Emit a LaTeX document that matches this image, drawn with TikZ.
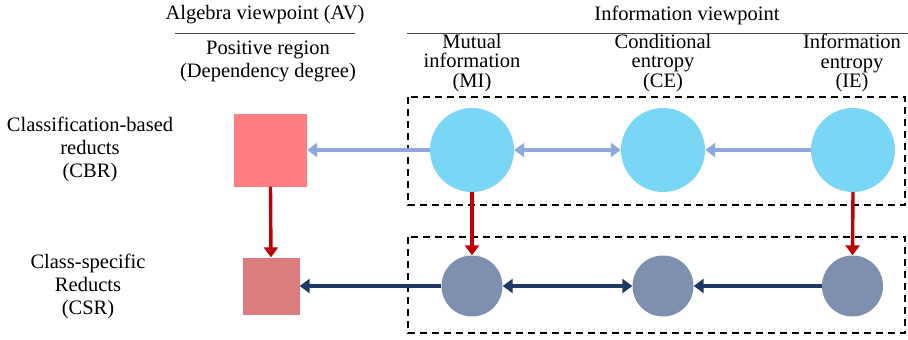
\documentclass[tikz,border=0pt]{standalone}
\usepackage{fontspec}
\setmainfont{Liberation Serif}
\usetikzlibrary{arrows.meta}
\definecolor{bigsq}{RGB}{255,124,128}
\definecolor{smsq}{RGB}{220,124,126}
\definecolor{bigc}{RGB}{122,214,245}
\definecolor{smc}{RGB}{127,143,176}
\definecolor{lightar}{RGB}{142,169,219}
\definecolor{darkar}{RGB}{31,56,100}
\definecolor{redar}{RGB}{192,0,0}
\tikzset{
  lbl/.style={align=center,font=\fontsize{20.5}{23}\selectfont,inner sep=0pt},
  lblt/.style={align=center,font=\fontsize{20.5}{19.5}\selectfont,inner sep=0pt},
  bigcirc/.style={circle,fill=bigc,minimum size=84pt,inner sep=0pt},
  smcirc/.style={circle,fill=smc,minimum size=61pt,inner sep=0pt},
  tri/.style={-{Triangle[length=10pt,width=14pt]}},
  bitri/.style={{Triangle[length=10pt,width=14pt]}-{Triangle[length=10pt,width=14pt]}},
  lightline/.style={draw=lightar,line width=3.4pt},
  darkline/.style={draw=darkar,line width=3.2pt},
  redline/.style={draw=redar,line width=3.4pt},
  dbox/.style={draw,line width=1.4pt,dash pattern=on 7pt off 5pt},
}
\begin{document}
\begin{tikzpicture}[x=1pt,y=-1pt]
\useasboundingbox (0,0) rectangle (908,340);
% headers
\node[lbl] (av) at (265,15) {Algebra viewpoint (AV)};
\coordinate (avl) at (175,33);
\coordinate (avr) at (355,33);
\draw[line width=0.9pt,black!70] (avl) -- (avr);
\node[lbl] (pr) at (268,61) {Positive region\\(Dependency degree)};
\node[lbl] (iv) at (687,15) {Information viewpoint};
\coordinate (ivl) at (407,33);
\coordinate (ivr) at (908,33);
\draw[line width=0.9pt,black!70] (ivl) -- (ivr);
\node[lblt] (mi) at (472,63) {Mutual\\information\\(MI)};
\node[lblt] (ce) at (663,63) {Conditional\\entropy\\(CE)};
\node[lblt] (ie) at (852,63) {Information\\entropy\\(IE)};
\node[lbl] (cbr) at (90,149) {Classification-based\\reducts\\(CBR)};
\node[lbl] (csr) at (88,286) {Class-specific\\Reducts\\(CSR)};
% dashed boxes
\coordinate (b1a) at (408,97);
\coordinate (b1b) at (905,205);
\coordinate (b2a) at (408,237);
\coordinate (b2b) at (905,333);
\draw[dbox] (b1a) rectangle (b1b);
\draw[dbox] (b2a) rectangle (b2b);
% shapes
\node[fill=bigsq,minimum size=73pt,inner sep=0pt] (sqb) at (270.5,150) {};
\node[fill=smsq,minimum size=57pt,inner sep=0pt] (sqs) at (271,286) {};
\node[bigcirc] (mib) at (472,150) {};
\node[bigcirc] (ceb) at (663,150) {};
\node[bigcirc] (ieb) at (853,150) {};
\node[smcirc] (mis) at (472,286) {};
\node[smcirc] (ces) at (663,286) {};
\node[smcirc] (ies) at (852.5,286) {};
% light arrows
\draw[lightline,tri] (mib.west) -- (sqb.east);
\draw[lightline,bitri] (mib.east) -- (ceb.west);
\draw[lightline,tri] (ieb.west) -- (ceb.east);
% dark arrows
\draw[darkline,tri] (mis.west) -- (sqs.east);
\draw[darkline,bitri] (mis.east) -- (ces.west);
\draw[darkline,tri] (ies.west) -- (ces.east);
% red arrows
\draw[redline,tri] (sqb.south) -- (sqs.north);
\draw[redline,tri] (mib.south) -- (mis.north);
\draw[redline,tri] (ieb.south) -- (ies.north);
\end{tikzpicture}
\end{document}
